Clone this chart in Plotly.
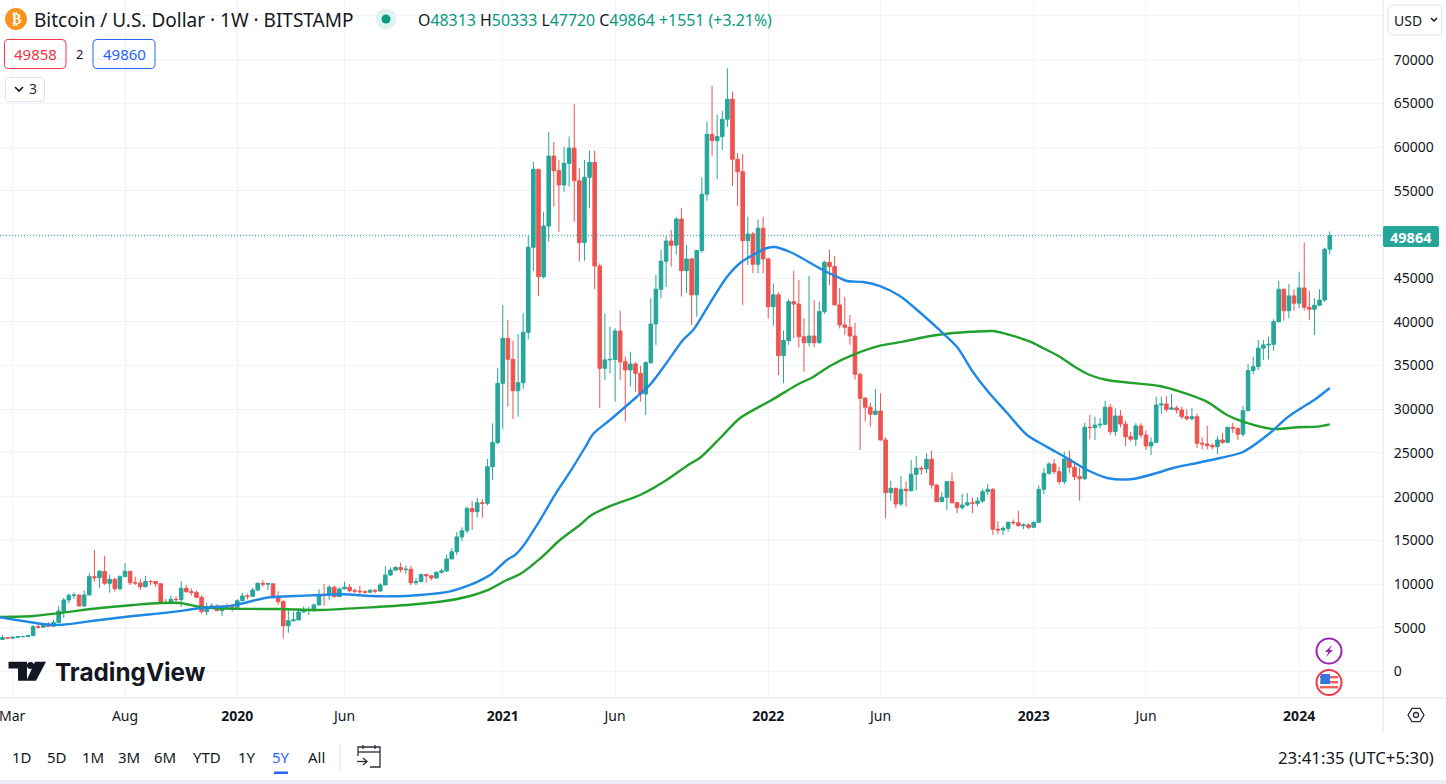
import pandas as pd
import plotly.graph_objects as go

# Weekly candles, first bar = week -3 relative to the 2019-03-04 bar
first_week = "2019-02-11"

opens = [3620,3660,3880,3820,3920,3990,4000,4100,5130,5070,
5300,5180,5600,6920,8180,8720,8750,7500,8750,10850,
10730,11460,10090,10550,9470,10850,11460,10160,10130,9700,
10300,10280,10040,7870,7850,8260,8230,9520,9130,9050,
8490,6840,7410,7500,6960,7480,7400,
7350,8100,8640,8600,9320,10090,10000,10030,8450,7990,
5240,5810,5900,6810,7050,7100,7610,8750,8700,9640,
8560,9450,9650,9250,9200,9130,9070,9300,9200,9900,
11040,11600,11900,11650,11700,10150,10300,11100,10950,10700,
11350,11500,12870,13700,15400,16100,18650,18280,19310,19240,
23430,26180,
32970,38120,35720,32120,33040,38800,48530,57450,45170,50960,
58970,57300,55660,58130,59870,56150,49060,56540,58250,46400,
34690,35650,35700,38960,35440,34500,35180,34120,31750,35330,
39760,43730,46930,49250,48770,51770,45860,47200,43090,48150,
54600,61450,60730,61190,63170,65470,58600,57180,49290,50050,
46590,50710,
47200,41730,43090,36130,37860,42310,42040,38300,37620,38380,
37620,41170,46820,46330,41940,39650,39380,38380,34000,31260,
30230,29430,29800,26490,20460,20960,19160,20840,20690,22560,
23250,23180,24280,21340,19430,19930,21720,19310,18740,19050,
19310,19240,19500,20570,20840,16270,16190,16380,17070,17020,
16680,16770,
16500,17070,20840,22680,23740,22860,21720,24310,23360,22290,
22060,27940,27900,28200,28280,30230,27440,29230,28310,26860,
26570,28090,27060,25800,26220,30490,30600,30000,30150,29920,
29150,28920,29150,26110,26030,25840,25720,26490,26220,27940,
27820,27140,29840,34420,34880,36990,37360,37430,40020,43730,
41280,42970,
42130,43880,41670,41440,41900,42500,48313]

highs = [3700,4180,3950,3950,4050,4080,4150,5330,5450,5350,
5650,5900,7500,8430,8900,9050,8800,9300,11300,13900,
11610,13200,11100,10700,11000,12400,11500,10850,10580,10950,
10500,10350,10100,8300,8700,8600,10350,9900,9500,9280,
8700,7870,7800,7700,7500,7800,7700,
8300,9000,8900,9550,10200,10450,10150,10030,9170,8150,
7030,6840,7200,7450,7410,7800,9400,10010,9900,9850,
9600,10270,9980,9500,9800,9300,9400,9400,10100,12070,
11900,12050,12450,12100,12100,10700,11200,11150,11000,11450,
11750,13350,14100,15950,16500,18900,19500,19900,19700,24300,
28400,34690,
41930,40220,37860,38600,41000,49800,58300,57500,52600,61750,
60600,58500,60030,61200,64900,57570,58500,59590,59590,46700,
40980,39450,39270,41280,36020,36590,35400,35000,35500,42700,
45370,48230,49800,50510,52000,53000,48790,47300,48250,56540,
62900,67000,63670,64160,69000,66340,59300,59210,52030,50300,
51730,52030,
47350,44400,43400,38990,42600,45860,44790,40400,45250,42500,
42300,47000,48230,47500,43880,42850,40800,39900,34200,31400,
30720,32320,31830,26800,21830,21000,22360,21720,24200,24650,
23500,24960,25260,21400,20500,21750,22750,19450,20310,20400,
19900,19950,20900,21450,21000,17200,16600,17150,17400,18400,
16950,16950,
17150,21300,23250,23950,24300,23400,25150,25260,23800,23300,
28460,29350,29150,29000,30980,30600,30110,29920,28700,27400,
28400,28400,27600,26800,31440,31440,31520,31750,30400,30300,
30000,30150,29500,26800,28090,26100,26900,27320,28000,28460,
27850,30380,35180,36020,37930,37950,38300,40300,44710,43800,
44340,43730,
45740,49060,43570,42700,43730,48500,50333]

lows = [3580,3640,3700,3700,3830,3900,3950,4050,4900,5000,
5100,5100,5600,6120,7800,8300,7450,7400,8750,10270,
9550,9900,9020,9130,9300,10800,9900,9900,9330,9650,
9900,9700,7750,7700,7700,7900,7380,9000,8700,8400,
6600,6460,7250,6900,6350,7100,6850,
7300,8050,8250,8500,9200,9700,9300,8400,7650,3800,
4440,5700,5900,6750,6460,6800,7600,7500,8150,8500,
8500,9400,9050,8950,8850,8900,9050,8950,9150,9900,
10900,11500,11300,11200,9850,9900,10200,10150,10400,10600,
11200,11400,12900,13300,14900,15800,16200,17600,17600,19000,
21900,26000,
27750,30300,28890,29150,32300,38000,45800,42960,44950,49170,
53170,50300,54890,55470,51460,46890,47000,53000,43730,30130,
33350,34120,30870,33350,28580,32590,32010,30870,29350,35200,
37360,42700,44000,46330,47700,42890,43300,39650,40600,47900,
53870,58970,56310,59650,62300,55550,53260,41940,46500,45560,
45560,45560,
40400,39530,33920,32970,37360,38150,37100,34300,37200,37100,
37500,40900,44220,41900,39250,38500,37360,33400,25340,28580,
28010,29300,26400,17530,19540,18680,18950,18860,20600,20690,
22500,22700,20900,19400,19450,18480,19200,18100,18500,18900,
18100,18900,19300,20200,15620,15700,15620,16000,16800,16600,
16300,16300,
16400,17000,20300,22500,22600,21400,21400,22700,21900,19540,
21900,26570,26490,27800,28200,27060,26950,27900,25800,26300,
25800,26700,25340,24770,26200,29460,29720,29950,29500,28900,
28700,28700,25570,25400,25400,25400,24890,26000,26100,27300,
26490,26900,29800,34000,34500,35640,35700,36700,39900,40140,
40440,41280,
41560,41300,40220,38500,41800,42300,47720]

closes = [3660,3880,3820,3920,3990,4000,4100,5130,5070,5300,
5180,5600,6920,8180,8720,8750,7500,8750,10850,10730,
11460,10090,10550,9470,10850,11460,10160,10130,9700,10300,
10280,10040,7870,7850,8260,8230,9520,9130,9050,8490,
6840,7410,7500,6960,7480,7400,7350,
8100,8640,8600,9320,10090,10000,10030,8450,7990,5240,
5810,5900,6810,7050,7100,7610,8750,8700,9640,8560,
9450,9650,9250,9200,9130,9070,9300,9200,9900,11040,
11600,11900,11650,11700,10150,10300,11100,10950,10700,11350,
11500,12870,13700,15400,16100,18650,18280,19310,19240,23430,
26180,32970,
38120,35720,32120,33040,38800,48530,57450,45170,50960,58970,
57300,55660,58130,59870,56150,49060,56540,58250,46400,34690,
35650,35700,38960,35440,34500,35180,34120,31750,35330,39760,
43730,46930,49250,48770,51770,45860,47200,43090,48150,54600,
61450,60730,61190,63170,65470,58600,57180,49290,50050,46590,
50710,47200,
41730,43090,36130,37860,42310,42040,38300,37620,38380,37620,
41170,46820,46330,41940,39650,39380,38380,34000,31260,30230,
29430,29800,26490,20460,20960,19160,20840,20690,22560,23250,
23180,24280,21340,19430,19930,21720,19310,18740,19050,19310,
19240,19500,20570,20840,16270,16190,16380,17070,17020,16680,
16770,16500,
17070,20840,22680,23740,22860,21720,24310,23360,22290,22060,
27940,27900,28200,28280,30230,27440,29230,28310,26860,26570,
28090,27060,25800,26220,30490,30600,30000,30150,29920,29150,
28920,29150,26110,26030,25840,25720,26490,26220,27940,27820,
27140,29840,34420,34880,36990,37360,37430,40020,43730,41280,
42970,42130,
43880,41670,41440,41900,42500,48313,49864]

# Moving averages, read at points along each curve (weeks after 2019-03-04, price)
blue_weeks = [-2.5,6.3,9.7,17,23.6,30.2,36.7,43.2,49.8,54.3,60.2,64.7,70,73.9,79.8,85.7,89.6,91.5,93.8,96.8,
98.4,100,103.3,106.6,109.2,112.4,113.7,117,122.2,124.8,128.2,131.3,133.3,136.6,139.9,142.5,145,147.8,149.3,152.3,154.2,158.7,
162,163.4,166.6,169.9,173.8,178.3,182.2,185,188.1,190.8,194.8,198.7,202.6,206.5,210.5,214.4,219.4,224.1,227.3,232,
236.5,241,246.3,249.8,255.5,258]
blue_vals = [6200,5400,5350,5890,6350,6730,7230,7570,8440,8600,8750,8830,8640,8600,8750,9170,9900,10390,11150,12760,
13330,14360,17330,20570,22860,25910,27170,28770,31400,32770,35400,37920,39060,42150,45120,46730,47650,48450,48560,47990,47420,45930,
45020,44670,44560,44100,42960,40780,38720,37120,34260,32200,29570,27060,25700,24420,23050,22140,22020,22710,23280,23850,
24420,25110,27280,29110,31290,32430]
green_weeks = [-2.5,4,9.3,17,23.6,28.9,32.8,36.7,43.2,52.4,60.2,70,77.8,84.3,89.6,92.8,96.8,99.4,103.6,107.2,
111.1,113.4,117.6,122.9,128.1,132.6,134.6,138.6,142.5,148.7,153.6,156.8,160.1,164.6,169.9,174.4,179.7,184.2,188.1,192,194,
199.3,201.8,205.1,208.1,211,214.4,218.9,224.7,228.7,233.9,237.9,241,246.9,251.6,255.5,258]
green_vals = [6240,6350,6690,7260,7610,7840,7840,7380,7180,7150,7040,7340,7640,8030,8640,9240,10470,11150,13060,15040,
16760,17900,19050,20190,21910,23740,24420,26710,29000,31060,32780,33700,34950,36210,37270,37730,38380,38720,38870,38950,38720,
37730,37010,36010,34830,33920,33350,33040,32660,32010,30870,29340,28580,27740,27940,28010,28280]

tick_dates = ["2019-03-04","2019-08-05","2020-01-06","2020-06-01","2021-01-04","2021-06-07","2022-01-03","2022-06-06","2023-01-02","2023-06-05","2024-01-01"]
tick_labels = ["","Aug","<b>2020</b>","Jun","<b>2021</b>","Jun","<b>2022</b>","Jun","<b>2023</b>","Jun","<b>2024</b>"]
first_tick_label = "Mar"
price_ticks = [0,5000,10000,15000,20000,25000,30000,35000,40000,45000,50000,55000,60000,65000,70000,75000]
price_labels = ["" if v in (50000, 75000) else str(v) for v in price_ticks]
range_buttons = ["1D","5D","1M","3M","6M","YTD","1Y","5Y","All"]

UP = "#26a69a"; DOWN = "#ef5350"; GRID = "#f0f3fa"; BORDER = "#e0e3eb"; INK = "#131722"
FONT = "Noto Sans"
W, H, PW, PH = 1446, 784, 1383, 698

def px(x): return x / PW
def py(y): return (PH - y) / PH

anchor = pd.Timestamp(tick_dates[0])
dates = pd.date_range(first_week, periods=len(closes), freq="7D")
def wk(w): return [anchor + pd.Timedelta(weeks=v) for v in w]

fig = go.Figure()
fig.add_trace(go.Candlestick(x=dates, open=opens, high=highs, low=lows, close=closes,
    increasing=dict(line=dict(color=UP, width=1), fillcolor=UP),
    decreasing=dict(line=dict(color=DOWN, width=1), fillcolor=DOWN),
    whiskerwidth=0, showlegend=False, hoverinfo="skip"))
fig.add_trace(go.Scatter(x=wk(green_weeks), y=green_vals, mode="lines", showlegend=False, hoverinfo="skip",
    line=dict(color="#22a02c", width=2.4, shape="spline", smoothing=0.8)))
fig.add_trace(go.Scatter(x=wk(blue_weeks), y=blue_vals, mode="lines", showlegend=False, hoverinfo="skip",
    line=dict(color="#1e88e5", width=2.4, shape="spline", smoothing=0.8)))

shapes, ann = [], []
def text(x, y, s, size=14, color=INK, anchor="left", family=FONT):
    ann.append(dict(xref="paper", yref="paper", x=px(x), y=py(y), text=s, showarrow=False,
                    xanchor=anchor, yanchor="middle", borderpad=0,
                    font=dict(family=family, size=size, color=color)))
def rect(x0, y0, x1, y1, fill="rgba(0,0,0,0)", line=None, lw=1):
    shapes.append(dict(type="rect", xref="paper", yref="paper", x0=px(x0), x1=px(x1), y0=py(y0), y1=py(y1),
                       fillcolor=fill, line=dict(color=line or "rgba(0,0,0,0)", width=lw if line else 0)))
def circle(cx, cy, r, fill="rgba(0,0,0,0)", line=None, lw=1):
    shapes.append(dict(type="circle", xref="paper", yref="paper", x0=px(cx-r), x1=px(cx+r), y0=py(cy+r), y1=py(cy-r),
                       fillcolor=fill, line=dict(color=line or "rgba(0,0,0,0)", width=lw if line else 0)))
def poly(pts, fill=None, line=None, lw=1, close=True):
    d = "M" + " L".join(f"{px(x):.5f},{py(y):.5f}" for x, y in pts) + (" Z" if close else "")
    shapes.append(dict(type="path", xref="paper", yref="paper", path=d,
                       fillcolor=fill or "rgba(0,0,0,0)", line=dict(color=line or "rgba(0,0,0,0)", width=lw if line else 0)))
def rrect(x0, y0, x1, y1, r, fill=None, line=None, lw=1):
    X0, X1, Y0, Y1, RX, RY = px(x0), px(x1), py(y0), py(y1), r/PW, r/PH
    d = (f"M{X0+RX:.5f},{Y0:.5f} L{X1-RX:.5f},{Y0:.5f} Q{X1:.5f},{Y0:.5f} {X1:.5f},{Y0-RY:.5f} "
         f"L{X1:.5f},{Y1+RY:.5f} Q{X1:.5f},{Y1:.5f} {X1-RX:.5f},{Y1:.5f} L{X0+RX:.5f},{Y1:.5f} "
         f"Q{X0:.5f},{Y1:.5f} {X0:.5f},{Y1+RY:.5f} L{X0:.5f},{Y0-RY:.5f} Q{X0:.5f},{Y0:.5f} {X0+RX:.5f},{Y0:.5f} Z")
    shapes.append(dict(type="path", xref="paper", yref="paper", path=d, fillcolor=fill or "rgba(0,0,0,0)",
                       line=dict(color=line or "rgba(0,0,0,0)", width=lw if line else 0)))

# last-price dotted line
shapes.append(dict(type="line", xref="paper", yref="y", x0=0, x1=1, y0=closes[-1], y1=closes[-1],
                   line=dict(color=UP, width=1, dash="1px,2px")))
# frame lines and bottom strip
poly([(0, PH), (W, PH)], line=BORDER, close=False)
poly([(PW, 0), (PW, 733)], line=BORDER, close=False)
rect(0, 780, W, 784, fill="#e9ecf2")

# header
circle(16, 19, 11, fill="#f7931a")
text(16, 19, "<b>₿</b>", size=14, color="#ffffff", anchor="center", family="DejaVu Sans")
text(33, 20, "Bitcoin / U.S. Dollar · 1W · BITSTAMP", size=19)
circle(386, 19, 10.5, fill="#dff3f0")
circle(386, 19, 4.5, fill="#089981")
teal = "#089981"
def v(s): return f'<span style="color:{teal}">{s}</span>'
text(417, 20, "O" + v("48313") + " H" + v("50333") + " L" + v("47720") + " C" + v("49864") + " " + v("+1551 (+3.21%)"), size=15.9)
rrect(4.5, 39.5, 66, 68.5, 4, line="#f23645")
text(35, 54, "49858", size=15, color="#f23645", anchor="center")
text(79, 54, "2", size=13, anchor="center")
rrect(93, 39.5, 155, 68.5, 4, line="#2962ff")
text(124, 54, "49860", size=15, color="#2962ff", anchor="center")
rrect(5.5, 77.5, 44.5, 101.5, 3, fill="#ffffff", line=BORDER)
poly([(15, 87), (19, 91), (23, 87)], line=INK, lw=1.6, close=False)
text(33, 89, "3", size=14, anchor="center", color="#2a2e39")

# price label, currency box
rrect(1383, 226, 1439, 247, 2, fill=UP)
text(1411, 236.5, "<b>49864</b>", size=14.5, color="#ffffff", anchor="center")
rrect(1388, 5, 1442, 35, 5, fill="#ffffff", line=BORDER)
text(1393, 20, "USD", size=14)
poly([(1431, 18), (1434, 21), (1437, 18)], line=INK, lw=1.5, close=False)

# TradingView logo
poly([(8.5, 661.7), (27, 661.7), (27, 680.7), (18, 680.7), (18, 668.5), (8.5, 668.5)], fill=INK)
circle(30.5, 665.5, 3.5, fill=INK)
poly([(35, 661.7), (46, 661.7), (36, 680.7), (26.5, 680.7)], fill=INK)
text(54, 671.5, "<b>TradingView</b>", size=24.3, family="Inter")

# marks at the right
circle(1329, 651, 12.5, fill="#ffffff", line="#9c27b0", lw=2)
poly([(1332, 645), (1325, 652), (1328.5, 652), (1326, 657), (1333, 650), (1329.5, 650)], fill="#9c27b0")
circle(1329, 682.5, 12.5, fill="#ffffff", line="#f23645", lw=2)
for sy in (676, 681, 686):
    rect(1320, sy, 1338, sy + 2.4, fill="#f0605c")
rect(1320.5, 674, 1330, 684, fill="#3179e0")
# settings hexagon
poly([(1408, 715), (1412, 708.3), (1420, 708.3), (1424, 715), (1420, 721.7), (1412, 721.7)], line="#2a2e39", lw=1.3)
circle(1416, 715, 2.5, line="#2a2e39", lw=1.3)

# bottom bar
for name, cx in zip(range_buttons, [22, 57, 93, 129, 165, 207, 247, 281, 316]):
    text(cx, 757, name, size=15, color="#2962ff" if name == "5Y" else INK, anchor="center")
rect(274, 771.5, 288, 774, fill="#2962ff")
poly([(340, 744), (340, 770)], line=BORDER, close=False)
poly([(358, 756), (358, 747), (380, 747), (380, 767), (370, 767)], line="#2a2e39", lw=1.3, close=False)
poly([(358, 752), (380, 752)], line="#2a2e39", lw=1.3, close=False)
poly([(363, 745), (363, 749)], line="#2a2e39", lw=1.3, close=False)
poly([(375, 745), (375, 749)], line="#2a2e39", lw=1.3, close=False)
poly([(357, 761.5), (367, 761.5)], line="#2a2e39", lw=1.3, close=False)
poly([(363, 758), (367, 761.5), (363, 765)], line="#2a2e39", lw=1.3, close=False)
text(1435, 757, "23:41:35 (UTC+5:30)", size=16.8, anchor="right")
text(12, 715, first_tick_label, size=14, anchor="center")

fig.update_layout(
    width=W, height=H, margin=dict(l=0, r=W-PW, t=0, b=H-PH, pad=0),
    paper_bgcolor="#ffffff", plot_bgcolor="#ffffff", showlegend=False, boxgap=0.0,
    shapes=shapes, annotations=ann, dragmode=False,
    xaxis=dict(type="date", range=[anchor + pd.Timedelta(weeks=-2.488), anchor + pd.Timedelta(weeks=268.43)],
               tickmode="array", tickvals=tick_dates, ticktext=tick_labels, showgrid=True, gridcolor=GRID, gridwidth=1,
               zeroline=False, showline=False, ticks="outside", ticklen=5, tickcolor="rgba(0,0,0,0)",
               tickangle=0, rangeslider=dict(visible=False),
               tickfont=dict(family=FONT, size=14, color=INK)),
    yaxis=dict(side="right", range=[-3032, 76820], tickmode="array", tickvals=price_ticks, ticktext=price_labels,
               showgrid=True, gridcolor=GRID, gridwidth=1, zeroline=False, showline=False,
               ticks="outside", ticklen=7, tickcolor="rgba(0,0,0,0)",
               tickfont=dict(family=FONT, size=14, color=INK)),
)
fig.write_html("out.html", config=dict(displayModeBar=False, staticPlot=True),
               post_script="document.body.style.margin='0';document.body.style.overflow='hidden';")
